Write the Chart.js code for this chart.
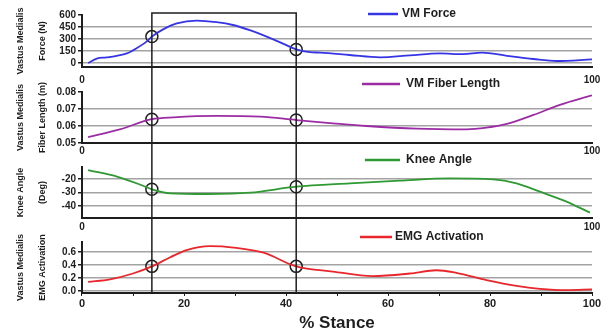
<!DOCTYPE html>
<html lang="en">
<head>
  <meta charset="UTF-8">
  <title>Vastus Medialis over stance</title>
  <script src="https://cdn.jsdelivr.net/npm/chart.js"></script>
  <style>
    html, body {
      margin: 0;
      padding: 0;
      background: #fff;
      overflow: hidden;
    }
    #wrap {
      width: 610px;
      height: 335px;
    }
  </style>
</head>
<body>
  <div id="wrap"><canvas id="stance" width="610" height="335"></canvas></div>

  <script>
    // Series (% stance -> value)
    const seriesNames = ['VM Force', 'VM Fiber Length', 'Knee Angle', 'EMG Activation'];

    const forcePct = [1.2, 2.9, 4.8, 6.8, 8.8, 10.7, 12.7, 13.7, 15.9, 18.6, 22.5, 26.4, 29.6, 32.9, 36.2, 39.5, 42, 44.7, 46.7, 52.5, 58.4, 64.3, 70.2, 74.7, 78.4, 83.3, 88.5, 93.1, 100];
    const forceN = [0, 55, 70, 90, 120, 185, 270, 330, 420, 495, 530, 510, 475, 410, 330, 240, 170, 135, 130, 100, 70, 95, 120, 110, 130, 90, 50, 25, 45];

    const fiberPct = [1.2, 7.4, 13.7, 18, 26.4, 35, 42, 49.2, 55.8, 65.6, 75.4, 79.3, 83.3, 88.5, 93.7, 100];
    const fiberM = [0.0534, 0.058, 0.064, 0.0651, 0.0659, 0.0655, 0.0635, 0.0616, 0.060, 0.0584, 0.058, 0.059, 0.0612, 0.0665, 0.0724, 0.078];

    const kneePct = [1.2, 7, 11.6, 13.7, 17.3, 24.5, 33, 42, 52.5, 62.3, 72, 80.6, 85.2, 89.8, 95, 99.6];
    const kneeDeg = [-13.3, -18.3, -24.4, -27.6, -30.6, -31.1, -30.1, -25.7, -23.2, -21.2, -19.5, -20.2, -23.2, -29.4, -36.8, -45];

    const emgPct = [1.2, 5.5, 10, 13.7, 17.3, 20.5, 25.1, 29.7, 35.6, 42, 49.2, 57, 64.3, 69.5, 73.4, 79.3, 85.2, 89.8, 95, 100];
    const emgAct = [0.14, 0.18, 0.27, 0.38, 0.52, 0.63, 0.69, 0.67, 0.59, 0.38, 0.30, 0.23, 0.27, 0.32, 0.28, 0.17, 0.08, 0.035, 0.015, 0.026];

    // highlighted window and the circled values at its edges
    const windowPct = [13.7, 42];
    const forceAtWindow = [330, 170];
    const fiberAtWindow = [0.064, 0.0635];
    const kneeAtWindow = [-27.6, -25.7];
    const emgAtWindow = [0.38, 0.38];

    // tick labels
    const forceTicks = [0, 150, 300, 450, 600];
    const fiberTicks = [0.05, 0.06, 0.07, 0.08];
    const kneeTicks = [-40, -30, -20];
    const emgTicks = [0, 0.2, 0.4, 0.6];
    const stanceTicks = [0, 10, 20, 30, 40, 50, 60, 70, 80, 90, 100];
    const stanceEnds = [0, 100];

    const FONT = '"Liberation Sans", Arial, sans-serif';
    const GRID = '#a3a3a3';
    const INK = '#1e1e1e';

    const pts = (xs, ys) => xs.map((x, i) => ({ x: x, y: ys[i] }));
    const setTicks = list => scale => { scale.ticks = list.map(v => ({ value: v })); };
    const leftWidth = scale => { scale.width = 82; };

    function curve(label, xs, ys, axis, color) {
      return {
        label: label,
        data: pts(xs, ys),
        xAxisID: 'x',
        yAxisID: axis,
        borderColor: color,
        borderWidth: 1.8,
        pointRadius: 0,
        cubicInterpolationMode: 'monotone',
        fill: false
      };
    }

    function marks(ys, axis) {
      return {
        label: 'marks',
        data: pts(windowPct, ys),
        xAxisID: 'x',
        yAxisID: axis,
        showLine: false,
        pointRadius: 6,
        pointBorderWidth: 1.5,
        pointBorderColor: INK,
        pointBackgroundColor: 'rgba(0,0,0,0)'
      };
    }

    function panelAxis(weight, min, max, ticks, fmt, title, hideTop) {
      return {
        type: 'linear',
        position: 'left',
        stack: 'panels',
        stackWeight: weight,
        min: min,
        max: max,
        afterBuildTicks: setTicks(ticks),
        afterFit: leftWidth,
        grid: {
          color: ctx => (hideTop && ctx.tick && ctx.tick.value === max) ? 'rgba(0,0,0,0)' : GRID,
          lineWidth: 1.5,
          tickColor: INK,
          tickLength: 4
        },
        border: { color: INK, width: 2 },
        ticks: {
          autoSkip: false,
          color: INK,
          padding: 2,
          font: { family: FONT, size: 10, weight: 'bold' },
          callback: fmt
        },
        title: {
          display: true,
          text: title,
          color: INK,
          padding: { top: 9, bottom: 0 },
          font: { family: FONT, size: 9, weight: 'bold', lineHeight: 2.45 }
        }
      };
    }

    function gapAxis(weight) {
      return {
        type: 'linear',
        position: 'left',
        stack: 'panels',
        stackWeight: weight,
        afterFit: leftWidth,
        grid: { display: false },
        border: { display: false },
        ticks: { display: false }
      };
    }

    function endAxis(pos, pad) {
      return {
        type: 'linear',
        axis: 'x',
        position: pos,
        min: 0,
        max: 100,
        afterBuildTicks: setTicks(stanceEnds),
        grid: { display: false, drawTicks: false },
        border: { color: INK, width: 2 },
        ticks: {
          autoSkip: false,
          maxRotation: 0,
          color: INK,
          padding: pad,
          font: { family: FONT, size: 10, weight: 'bold' }
        }
      };
    }

    // rectangle spanning all panels over the highlighted window
    const windowBox = {
      id: 'windowBox',
      afterDatasetsDraw(chart) {
        const { ctx, chartArea, scales } = chart;
        const x0 = scales.x.getPixelForValue(windowPct[0]);
        const x1 = scales.x.getPixelForValue(windowPct[1]);
        ctx.save();
        ctx.strokeStyle = INK;
        ctx.lineWidth = 1.5;
        ctx.strokeRect(x0, chartArea.top - 2, x1 - x0, chartArea.bottom - chartArea.top + 2);
        ctx.restore();
      }
    };

    // one small legend above each panel
    const panelLegend = {
      id: 'panelLegend',
      afterDraw(chart, args, opts) {
        const { ctx, chartArea } = chart;
        ctx.save();
        ctx.font = 'bold 12px ' + FONT;
        ctx.textBaseline = 'middle';
        ctx.textAlign = 'left';
        opts.items.forEach(item => {
          const ds = chart.data.datasets[item.ds];
          const y = chart.scales[ds.yAxisID].top + item.dy;
          const x = chartArea.left + item.dx;
          ctx.strokeStyle = ds.borderColor;
          ctx.lineWidth = 2.5;
          ctx.beginPath();
          ctx.moveTo(x, y);
          ctx.lineTo(x + item.len, y);
          ctx.stroke();
          ctx.fillStyle = INK;
          ctx.fillText(ds.label, x + item.len + item.gap, y);
        });
        ctx.restore();
      }
    };

    new Chart(document.getElementById('stance'), {
      type: 'line',
      data: {
        datasets: [
          curve(seriesNames[0], forcePct, forceN, 'yForce', '#3535e6'),
          curve(seriesNames[1], fiberPct, fiberM, 'yFiber', '#9b2ca3'),
          curve(seriesNames[2], kneePct, kneeDeg, 'yKnee', '#2f9a33'),
          curve(seriesNames[3], emgPct, emgAct, 'yEmg', '#e8262b'),
          marks(forceAtWindow, 'yForce'),
          marks(fiberAtWindow, 'yFiber'),
          marks(kneeAtWindow, 'yKnee'),
          marks(emgAtWindow, 'yEmg')
        ]
      },
      options: {
        responsive: false,
        devicePixelRatio: 1,
        animation: false,
        events: [],
        layout: { padding: { top: 15, right: 18, left: 0, bottom: 0 } },
        plugins: {
          legend: { display: false },
          tooltip: { enabled: false },
          panelLegend: {
            items: [
              { ds: 0, dx: 286, dy: -1, len: 30, gap: 4 },
              { ds: 1, dx: 280, dy: -8, len: 38, gap: 6 },
              { ds: 2, dx: 283, dy: -7, len: 35, gap: 6 },
              { ds: 3, dx: 278, dy: -5, len: 32, gap: 3 }
            ]
          }
        },
        scales: {
          x: {
            type: 'linear',
            position: 'bottom',
            min: 0,
            max: 100,
            afterBuildTicks: setTicks(stanceTicks),
            afterFit: scale => { scale.height = 42; },
            grid: { drawOnChartArea: false, color: INK, tickLength: 3 },
            border: { color: INK, width: 2 },
            ticks: {
              autoSkip: false,
              maxRotation: 0,
              color: INK,
              padding: 1,
              font: { family: FONT, size: 11, weight: 'bold' },
              callback: v => (v % 20 === 0 ? v : '')
            },
            title: {
              display: true,
              text: '% Stance',
              color: INK,
              padding: { top: 0, bottom: 1 },
              font: { family: FONT, size: 17, weight: 'bold' }
            }
          },
          xForce: endAxis({ yForce: -50 }, 7),
          xFiber: endAxis({ yFiber: 0.05 }, 2),
          xKnee: endAxis({ yKnee: -49 }, 3),
          // stacked left axes, listed bottom panel first
          yEmg: panelAxis(51, -0.03, 0.755, emgTicks, v => v.toFixed(1), ['Vastus Medialis', 'EMG Activation'], false),
          yGap3: gapAxis(24),
          yKnee: panelAxis(51, -49, -11, kneeTicks, v => v, ['Knee Angle', '(Deg)'], false),
          yGap2: gapAxis(24),
          yFiber: panelAxis(51, 0.05, 0.08, fiberTicks, v => v.toFixed(2), ['Vastus Medialis', 'Fiber Length (m)'], true),
          yGap1: gapAxis(25),
          yForce: panelAxis(52, -50, 600, forceTicks, v => v, ['Vastus Medialis', 'Force (N)'], true)
        }
      },
      plugins: [windowBox, panelLegend]
    });
  </script>
</body>
</html>
